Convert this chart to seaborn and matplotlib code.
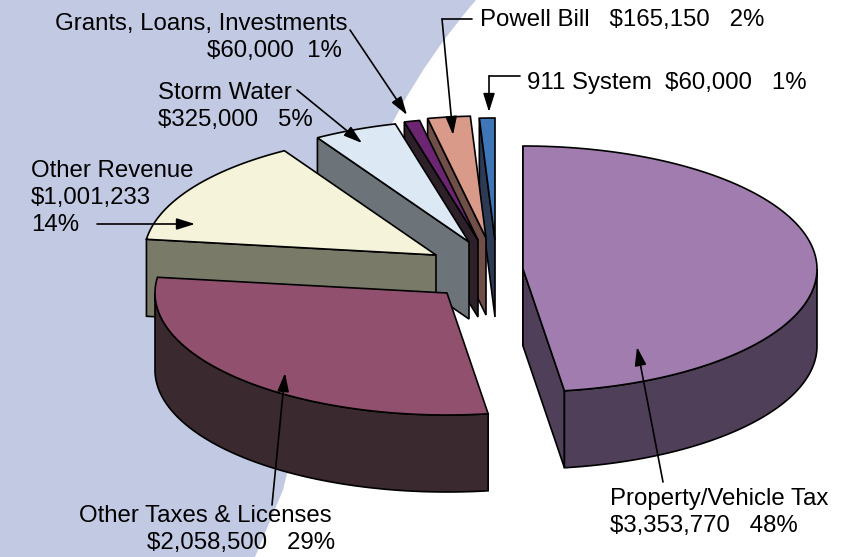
# exploded 3D pie, drawn as projected polygons
import numpy as np
import matplotlib
matplotlib.use('Agg')
import matplotlib.pyplot as plt
from matplotlib.patches import PathPatch
from matplotlib.path import Path
import seaborn as sns

### DATA ###
categorias = ['Property/Vehicle Tax', 'Other Taxes & Licenses', 'Other Revenue', 'Storm Water',
              'Grants, Loans, Investments', 'Powell Bill', '911 System']
valores = [3353770, 2058500, 1001233, 325000, 60000, 165150, 60000]
porcentajes = [48, 29, 14, 5, 1, 2, 1]

### STYLE ###
col_top = ['#A07DAE', '#92506F', '#F5F3DA', '#DDE8F5', '#6B2571', '#D99A89', '#3F76B7']
col_lado = ['#4F3F58', '#3A292F', '#7A7A68', '#6C7479', '#2D2029', '#6F4F48', '#2C3A55']
apex = [(523, 269), (447, 293), (436, 255), (469, 242), (478, 240), (486, 238), (495, 240)]
radio_x = [294, 292, 292, 292, 292, 292, 292]
radio_y = [123, 122, 122, 122, 122, 122, 122]
PROF = 77

sns.set_theme(style='white')
plt.rcParams['font.family'] = ['Liberation Sans', 'DejaVu Sans']

fig = plt.figure(figsize=(8.58, 5.57), dpi=100)
ax = fig.add_axes([0, 0, 1, 1])
ax.set_xlim(0, 858)
ax.set_ylim(557, 0)
ax.axis('off')

# fondo azul con borde curvo
fondo = Path([(0, 0), (476, 0), (385, 105), (345, 240), (283, 490), (255, 557), (0, 557), (0, 0)],
             [Path.MOVETO, Path.LINETO, Path.CURVE3, Path.CURVE3, Path.LINETO, Path.LINETO, Path.LINETO, Path.CLOSEPOLY])
ax.add_patch(PathPatch(fondo, fc='#C2CAE3', ec='none', zorder=0))

# angulos de cada porcion, en sentido horario desde arriba
frac = np.array(valores) / sum(valores)
fin = 90 - 360 * np.cumsum(frac)
ini = np.r_[90, fin[:-1]]


def borde(i, ang):
    t = np.radians(ang)
    return np.c_[apex[i][0] + radio_x[i] * np.cos(t), apex[i][1] - radio_y[i] * np.sin(t)]


def cara(pts, color, z):
    ax.fill(pts[:, 0], pts[:, 1], fc=color, ec='black', lw=1.2, joinstyle='miter', zorder=z)


# de atras hacia adelante
orden = [6, 5, 4, 3, 2, 1, 0]
for z, i in enumerate(orden):
    c = np.array(apex[i], dtype=float)
    baja = np.array([0, PROF])
    # paredes planas visibles
    for ang in [ini[i], fin[i]]:
        s = np.sin(np.radians(ang))
        if (ang == ini[i] and s > 0) or (ang == fin[i] and s < 0):
            p = borde(i, [ang])[0]
            cara(np.array([c, p, p + baja, c + baja]), col_lado[i], 1 + z * 3)
    # pared curva, solo la mitad de abajo
    a0 = min(ini[i], 0)
    a1 = max(fin[i], -180)
    if a0 > a1:
        arco = borde(i, np.linspace(a0, a1, 80))
        cara(np.r_[arco, arco[::-1] + baja], col_lado[i], 2 + z * 3)
    # tapa
    arco = borde(i, np.linspace(ini[i], fin[i], 120))
    cara(np.r_[[c], arco], col_top[i], 3 + z * 3)

### TEXTOS ###
FS = 17.3
plata = [f'${v:,}' for v in valores]
textos = [
    (610, 499, categorias[0]),
    (610, 526, f'{plata[0]}   {porcentajes[0]}%'),
    (79, 516, categorias[1]),
    (147, 543, f'{plata[1]}   {porcentajes[1]}%'),
    (31, 171, categorias[2]),
    (31, 198, plata[2]),
    (31, 225, f'{porcentajes[2]}%'),
    (158, 93, categorias[3]),
    (158, 120, f'{plata[3]}   {porcentajes[3]}%'),
    (55, 24, categorias[4]),
    (207, 51, f'{plata[4]}  {porcentajes[4]}%'),
    (480, 20, f'{categorias[5]}   {plata[5]}   {porcentajes[5]}%'),
    (527, 83, f'{categorias[6]}  {plata[6]}   {porcentajes[6]}%'),
]
for x, y, s in textos:
    ax.text(x, y, s, fontsize=FS, color='black', ha='left', va='center', zorder=40)

### FLECHAS ###
flechas = [
    ((663, 482), (637, 347)),
    ((272, 505), (285, 373)),
    ((97, 224), (195, 224)),
    ((297, 90), (362, 143)),
    ((350, 30), (407, 115)),
    ((442, 19), (453, 135)),
    ((489, 76), (489, 112)),
]
for ini_f, fin_f in flechas:
    ax.annotate('', xy=fin_f, xytext=ini_f, zorder=41,
                arrowprops=dict(arrowstyle='-|>,head_length=0.8,head_width=0.25', color='black', lw=1.2,
                                shrinkA=0, shrinkB=0, mutation_scale=14))
ax.plot([472, 442], [19, 19], color='black', lw=1.2, zorder=41)
ax.plot([520, 489], [76, 76], color='black', lw=1.2, zorder=41)

fig.savefig('out.png', dpi=100)
